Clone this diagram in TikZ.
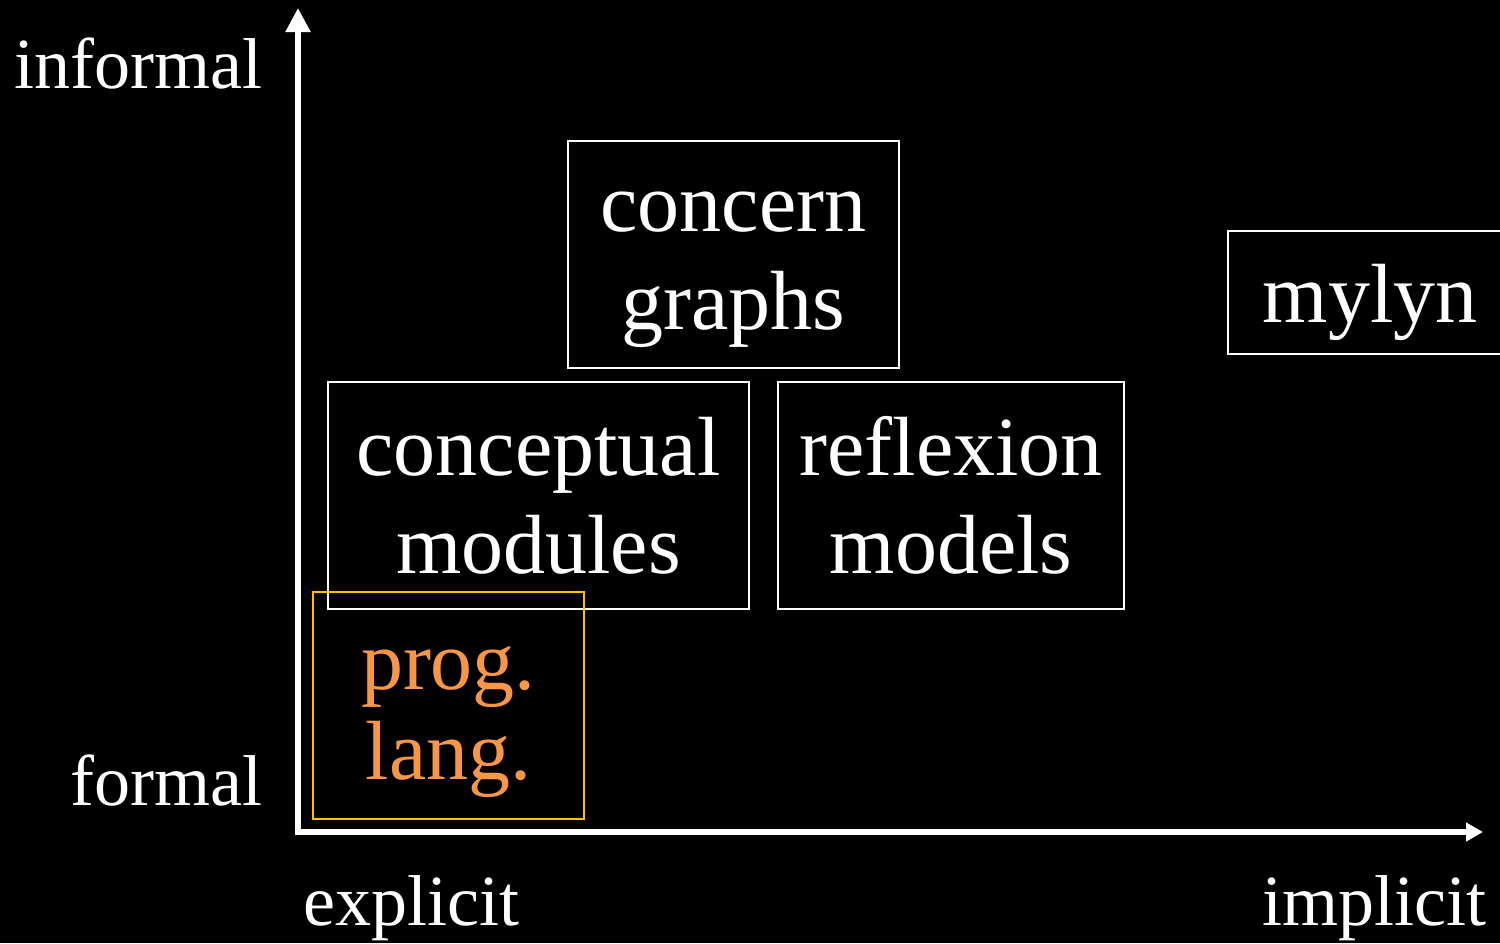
\documentclass[tikz,border=0pt]{standalone}
\usepackage{fontspec}
\setmainfont{Liberation Serif}
\usetikzlibrary{arrows.meta}
\definecolor{boxgold}{HTML}{FFC000}
\definecolor{langorange}{HTML}{F79646}
\begin{document}
\begin{tikzpicture}[x=0.5pt,y=-0.5pt,
  axis/.style={draw=white,line width=2.6pt,shorten <=-1.3pt},
  axislabel/.style={text=white,inner sep=0pt,font=\fontsize{36}{43}\selectfont},
  topicbox/.style={draw=white,line width=1.1pt,inner sep=0pt,minimum height=113.5pt},
  langbox/.style={topicbox,draw=boxgold},
  topictext/.style={text=white,align=center,inner sep=0pt,
    font=\fontsize{42}{49}\selectfont},
  langtext/.style={topictext,text=langorange,font=\fontsize{42}{45}\selectfont}]
  % canvas
  \fill[black] (0,0) rectangle (1500,943);
  \useasboundingbox (0,0) rectangle (1500,943);
  \clip (0,0) rectangle (1500,943);

  % axes
  \coordinate (origin) at (298,832);
  \coordinate (ytip) at (298,8);
  \coordinate (xtip) at (1483,832);
  \draw[axis,-{Triangle[length=12pt,width=12pt]}] (origin) -- (ytip);
  \draw[axis,-{Triangle[length=8.5pt,width=9pt]}] (origin) -- (xtip);

  % axis labels
  \node[axislabel,anchor=base east] (informal) at (263,88) {informal};
  \node[axislabel,anchor=base east] (formal) at (263,805) {formal};
  \node[axislabel,anchor=base west] (explicit) at (303,925) {explicit};
  \node[axislabel,anchor=base east] (implicit) at (1487,925) {implicit};

  % approaches: frames
  \node[topicbox,minimum width=165.5pt] (cg) at (733.5,254.5) {};
  \node[topicbox,minimum width=210.5pt] (cm) at (538.5,495.5) {};
  \node[topicbox,minimum width=173pt] (rm) at (951,495.5) {};
  \node[langbox,minimum width=135.5pt] (pl) at (448.5,705.5) {};
  \node[topicbox,minimum width=142pt,minimum height=61.5pt] (my) at (1370,292.5) {};

  % approaches: names
  \node[topictext] (cg-t) at ([yshift=-7.5pt]cg.center) {concern\\graphs};
  \node[topictext] (cm-t) at ([yshift=0pt]cm.center) {conceptual\\modules};
  \node[topictext] (rm-t) at ([yshift=0pt]rm.center) {reflexion\\models};
  \node[langtext] (pl-t) at ([yshift=-8pt]pl.center) {prog.\\lang.};
  \node[topictext] (my-t) at ([yshift=-5pt]my.center) {mylyn};
\end{tikzpicture}
\end{document}
